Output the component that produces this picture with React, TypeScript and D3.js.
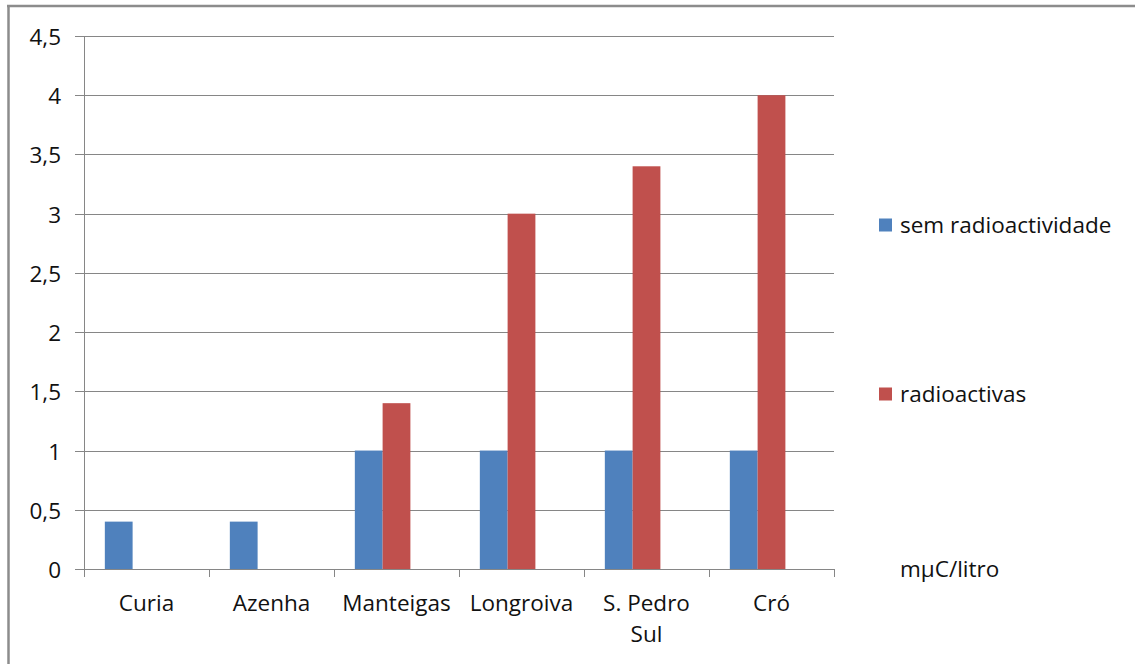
import { useEffect, useRef } from "react"
import * as d3 from "d3"

const categories = ["Curia", "Azenha", "Manteigas", "Longroiva", "S. Pedro Sul", "Cró"]
const seriesNames = ["sem radioactividade", "radioactivas", "mμC/litro"]
const semRadio = [0.4, 0.4, 1, 1, 1, 1]
const radioactivas = [0, 0, 1.4, 3, 3.4, 4]
const unitSeries = [0, 0, 0, 0, 0, 0]
const seriesColors = ["#4F81BD", "#C0504D", "none"]
const yTicks = [0, 0.5, 1, 1.5, 2, 2.5, 3, 3.5, 4, 4.5]

const W = 1135
const H = 664
const FONT = "'Open Sans', sans-serif"
const FS = 22.5

export default function App() {
  const svgRef = useRef<SVGSVGElement>(null)

  useEffect(() => {
    const svg = d3.select(svgRef.current!)
    svg.selectAll("*").remove()

    const left = 84
    const right = 834
    const top = 36
    const bottom = 569
    const grid = "#868686"

    const x = d3.scaleBand<string>().domain(categories).range([left, right]).padding(0)
    const inner = d3
      .scaleBand<number>()
      .domain([0, 1, 2])
      .range([0, x.bandwidth()])
      .paddingInner(0)
      .paddingOuter(0.75)
    const y = d3.scaleLinear().domain([0, 4.5]).range([bottom, top])

    // outer frame (only left/top visible)
    svg.append("line").attr("x1", 8.5).attr("x2", 8.5).attr("y1", 5).attr("y2", H)
      .attr("stroke", "#8c8c8c").attr("stroke-width", 2.5)
    svg.append("line").attr("x1", 7).attr("x2", W).attr("y1", 6).attr("y2", 6)
      .attr("stroke", "#8c8c8c").attr("stroke-width", 2.5)

    // gridlines + y ticks
    const gy = svg.append("g")
    yTicks.forEach((t) => {
      const yy = Math.round(y(t)) + 0.5
      gy.append("line").attr("x1", left - 9).attr("x2", right).attr("y1", yy).attr("y2", yy)
        .attr("stroke", grid).attr("stroke-width", 1)
      gy.append("text")
        .attr("x", 61).attr("y", yy).attr("dy", "0.36em")
        .attr("text-anchor", "end")
        .attr("font-family", FONT).attr("font-size", FS).attr("fill", "#111")
        .text(String(t).replace(".", ","))
    })

    // y axis line
    svg.append("line").attr("x1", left + 0.5).attr("x2", left + 0.5).attr("y1", top).attr("y2", bottom + 8)
      .attr("stroke", grid)

    // x tick marks at category boundaries
    const bounds = categories.map((c) => x(c)!).concat([right])
    bounds.forEach((bx) => {
      const xx = Math.round(bx) + 0.5
      svg.append("line").attr("x1", xx).attr("x2", xx).attr("y1", bottom).attr("y2", bottom + 8)
        .attr("stroke", grid)
    })

    // bars
    const series = [semRadio, radioactivas, unitSeries]
    series.forEach((vals, si) => {
      if (seriesColors[si] === "none") return
      svg.append("g")
        .selectAll("rect")
        .data(vals)
        .join("rect")
        .attr("x", (_, i) => x(categories[i])! + inner(si)!)
        .attr("width", inner.bandwidth())
        .attr("y", (d) => y(d))
        .attr("height", (d) => y(0) - y(d))
        .attr("fill", seriesColors[si])
    })

    // x labels
    categories.forEach((c) => {
      const cx = x(c)! + x.bandwidth() / 2
      const lines = c === "S. Pedro Sul" ? ["S. Pedro", "Sul"] : [c]
      lines.forEach((ln, li) => {
        svg.append("text")
          .attr("x", cx).attr("y", 611 + li * 31)
          .attr("text-anchor", "middle")
          .attr("font-family", FONT).attr("font-size", FS).attr("fill", "#111")
          .text(ln)
      })
    })

    // legend
    const legendY = [225, 394, 569]
    seriesNames.forEach((name, i) => {
      if (seriesColors[i] !== "none") {
        svg.append("rect").attr("x", 879).attr("y", legendY[i] - 6.5).attr("width", 13).attr("height", 13)
          .attr("fill", seriesColors[i])
      }
      svg.append("text")
        .attr("x", 900).attr("y", legendY[i]).attr("dy", "0.36em")
        .attr("font-family", FONT).attr("font-size", FS).attr("fill", "#111")
        .text(name)
    })
  }, [])

  return (
    <svg
      ref={svgRef}
      width={W}
      height={H}
      style={{ position: "absolute", left: 0, top: 0, background: "#fff" }}
    />
  )
}
